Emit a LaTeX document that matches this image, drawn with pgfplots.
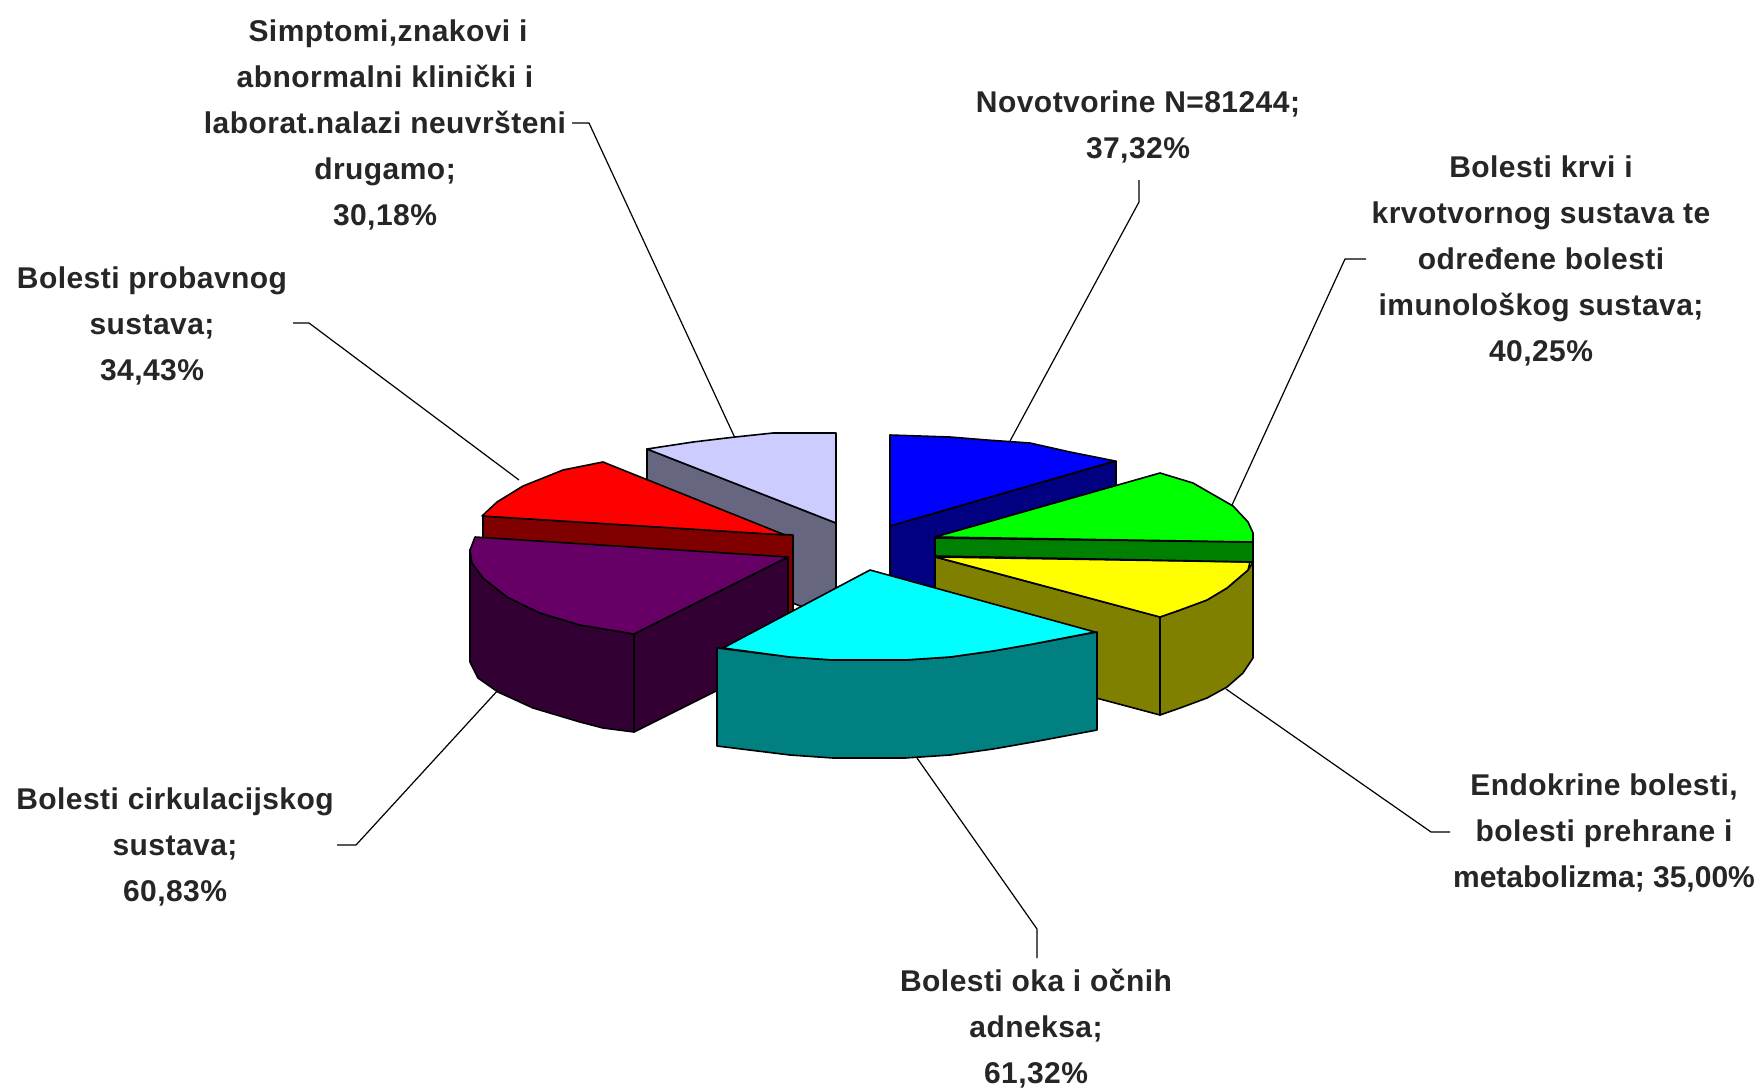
\documentclass[border=0pt]{standalone}
\usepackage{fontspec}
\setmainfont[LetterSpace=1.5]{Liberation Sans}
\usepackage{pgfplots}
\pgfplotsset{compat=1.18}
\definecolor{cPeri}{HTML}{CCCCFF}\definecolor{cPeriD}{HTML}{666680}
\definecolor{cRed}{HTML}{FF0000}\definecolor{cRedD}{HTML}{800000}
\definecolor{cPur}{HTML}{660066}\definecolor{cPurD}{HTML}{330033}
\definecolor{cCy}{HTML}{00FFFF}\definecolor{cCyD}{HTML}{008080}
\definecolor{cBl}{HTML}{0000FF}\definecolor{cBlD}{HTML}{000080}
\definecolor{cGr}{HTML}{00FF00}\definecolor{cGrD}{HTML}{008000}
\definecolor{cYe}{HTML}{FFFF00}\definecolor{cYeD}{HTML}{808000}
\tikzset{lab/.style={align=center, font=\fontsize{15}{23}\selectfont\bfseries, inner sep=0pt, text=black!85}}
\begin{document}
\begin{tikzpicture}
\begin{axis}[
  hide axis, scale only axis, width=880pt, height=544pt,
  xmin=0, xmax=1760, ymin=0, ymax=1088, y dir=reverse, clip=false,
  every axis plot/.append style={black, line width=0.8pt, line join=round, mark=none},
]
% canvas
\addplot[draw=none, fill=white] coordinates {(0,0)(1760,0)(1760,1088)(0,1088)} -- cycle;
% leader lines
\addplot[line width=0.6pt] coordinates {(1139,180)(1139,202)(1010,441)};
\addplot[line width=0.6pt] coordinates {(1366,259)(1345,259)(1232,505)};
\addplot[line width=0.6pt] coordinates {(1450,832)(1431,832)(1226,689)};
\addplot[line width=0.6pt] coordinates {(1037,958)(1037,929)(917,758)};
\addplot[line width=0.6pt] coordinates {(337,845)(356,845)(499,689)};
\addplot[line width=0.6pt] coordinates {(293,323)(309,323)(519,480)};
\addplot[line width=0.6pt] coordinates {(572,123)(589,123)(735,438)};
% Simptomi
\addplot[fill=cPeriD] coordinates {(647,449)(836,523)(836,620)(647,546)} -- cycle;
\addplot[fill=cPeri] coordinates {(647,449)(693,442)(735,437)(773,433)(836,433)(836,523)} -- cycle;
% Probavni
\addplot[fill=cRedD] coordinates {(483,516)(793,535)(793,632)(483,613)} -- cycle;
\addplot[fill=cRed] coordinates {(482,516)(497,502)(523,486)(563,470)(603,462)(785,535)} -- cycle;
% Cirkulacijski
\addplot[fill=cPurD] coordinates {(788,557)(788,655)(634,732)(634,634)} -- cycle;
\addplot[fill=cPurD] coordinates {(470,550)(472,563)(483,578)(507,597)(540,613)(580,625)(634,634)(634,732)(603,728)(580,722)(533,708)(498,692)(478,678)(470,662)} -- cycle;
\addplot[fill=cPur] coordinates {(475,537)(788,557)(634,634)(580,625)(540,613)(507,597)(483,578)(472,563)(470,550)} -- cycle;
% Novotvorine
\addplot[fill=cBlD] coordinates {(890,526)(1116,461)(1116,558)(890,624)} -- cycle;
\addplot[fill=cBl] coordinates {(890,435)(950,437)(987,440)(1030,443)(1070,452)(1115,461)(890,526)} -- cycle;
% Endokrine
\addplot[fill=cYeD] coordinates {(935,557)(1160,617)(1160,715)(935,655)} -- cycle;
\addplot[fill=cYeD] coordinates {(1160,617)(1180,610)(1207,600)(1227,588)(1248,570)(1253,562)(1253,658)(1243,673)(1227,687)(1207,698)(1180,708)(1160,715)} -- cycle;
\addplot[fill=cYe] coordinates {(936,557)(1250,562)(1248,570)(1227,588)(1207,600)(1180,610)(1160,617)} -- cycle;
% Krv
\addplot[fill=cGrD] coordinates {(935,538)(1253,542)(1253,562)(935,556)} -- cycle;
\addplot[fill=cGr] coordinates {(935,537)(1160,473)(1193,483)(1233,506)(1248,522)(1253,533)(1253,542)} -- cycle;
% Oko
\addplot[fill=cCyD] coordinates {(717,648)(790,657)(833,660)(905,660)(950,657)(993,651)(1033,644)(1097,632)(1097,730)(1033,742)(993,749)(950,755)(905,758)(833,758)(790,755)(717,746)} -- cycle;
\addplot[fill=cCy] coordinates {(870,570)(1095,632)(1033,644)(993,651)(950,657)(905,660)(833,660)(790,657)(723,648)} -- cycle;
% labels
\node[lab] at (axis cs:385,124.5) {\hspace*{3pt}Simptomi,znakovi i\\abnormalni klinički i\\laborat.nalazi neuvršteni\\drugamo;\\30,18\%};
\node[lab] at (axis cs:1138,126.5) {Novotvorine N=81244;\\37,32\%};
\node[lab] at (axis cs:1541,260.5) {Bolesti krvi i\\krvotvornog sustava te\\određene bolesti\\imunološkog sustava;\\40,25\%};
\node[lab] at (axis cs:1604,832.5) {Endokrine bolesti,\\bolesti prehrane i\\{\addfontfeature{LetterSpace=0}metabolizma; 35,00\%}};
\node[lab] at (axis cs:1036,1028.5) {Bolesti oka i očnih\\adneksa;\\61,32\%};
\node[lab] at (axis cs:175,846.5) {Bolesti cirkulacijskog\\sustava;\\60,83\%};
\node[lab] at (axis cs:152,325.5) {Bolesti probavnog\\sustava;\\34,43\%};
\end{axis}
\end{tikzpicture}
\end{document}
